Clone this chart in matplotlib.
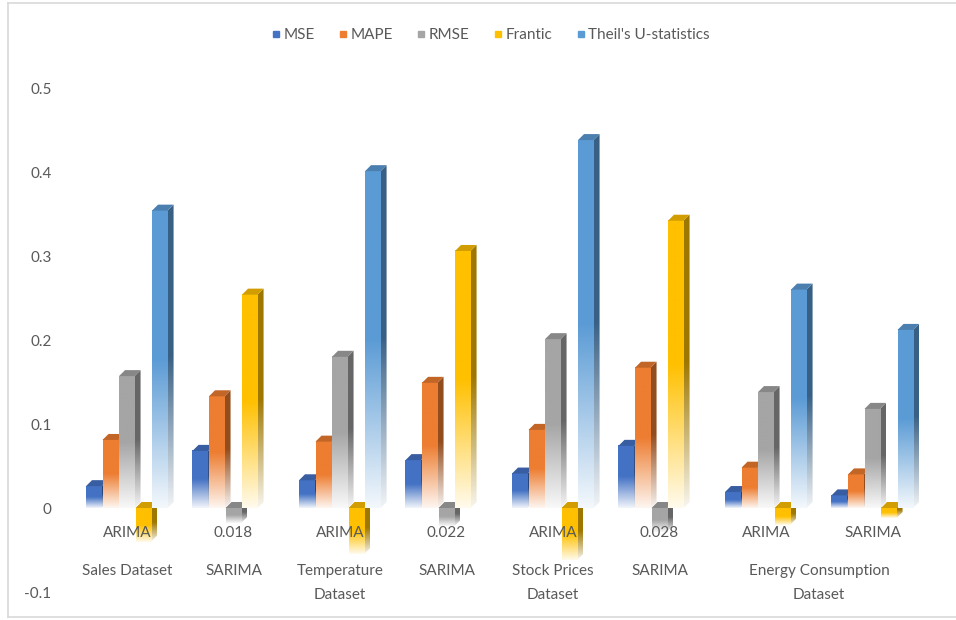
import matplotlib
matplotlib.use("Agg")
import matplotlib.pyplot as plt
import numpy as np
from matplotlib.patches import Polygon
from matplotlib.lines import Line2D
from matplotlib.colors import to_rgb

plt.rcParams['font.family'] = ['Lato', 'DejaVu Sans']

model_labels = ["ARIMA", "0.018", "ARIMA", "0.022", "ARIMA", "0.028", "ARIMA", "SARIMA"]
dataset_labels = [("Sales Dataset", 0), ("SARIMA", 1), ("Temperature\nDataset", 2),
                  ("SARIMA", 3), ("Stock Prices\nDataset", 4), ("SARIMA", 5),
                  ("Energy Consumption\nDataset", 6.5)]

series_names = ["MSE", "MAPE", "RMSE", "Frantic", "Theil's U-statistics"]
mse = [0.026, 0.068, 0.033, 0.057, 0.041, 0.074, 0.019, 0.015]
mape = [0.081, 0.133, 0.079, 0.149, 0.093, 0.167, 0.048, 0.040]
rmse = [0.157, -0.018, 0.180, -0.022, 0.201, -0.028, 0.138, 0.118]
frantic = [-0.040, 0.254, -0.055, 0.306, -0.062, 0.342, -0.020, -0.012]
theil = [0.354, np.nan, 0.401, np.nan, 0.438, np.nan, 0.260, 0.212]
series = [mse, mape, rmse, frantic, theil]
colors = ["#4472C4", "#ED7D31", "#A5A5A5", "#FFC000", "#5B9BD5"]

W, H = 956, 620
fig = plt.figure(figsize=(W / 100, H / 100), dpi=100)
ax = fig.add_axes([73.75 / W, (H - 592) / H, 852 / W, 504 / H])
ax.set_xlim(-0.5, 7.5)
ax.set_ylim(-0.1, 0.5)

pitch = 0.155
front_w = 0.146
start = -0.385
dx = 6 / 106.5
dy = 6 / 840


def gradient(color, shade=1.0, n=200):
    # solid colour on the upper half, fading towards white at the bottom
    rgb = np.array(to_rgb(color)) * shade
    t = np.linspace(0, 1, n)
    f = np.where(t < 0.5, 1.0, 1.0 - (t - 0.5) / 0.5 * 0.93)
    img = np.ones((n, 1, 3))
    for c in range(3):
        img[:, 0, c] = 1 - f * (1 - rgb[c])
    return img


for k, (vals, col) in enumerate(zip(series, colors)):
    for i, v in enumerate(vals):
        if np.isnan(v):
            continue
        x0 = i + start + k * pitch
        x1 = x0 + front_w
        y0, y1 = min(0, v), max(0, v)
        z = 2 + k * 0.1
        # right side face
        side = Polygon([(x1, y0), (x1 + dx, y0 + dy), (x1 + dx, y1 + dy), (x1, y1)],
                       closed=True, facecolor="none", edgecolor="none", zorder=z)
        ax.add_patch(side)
        im = ax.imshow(gradient(col, 0.62), extent=[x1, x1 + dx, y0, y1 + dy],
                       aspect="auto", zorder=z, interpolation="bilinear")
        im.set_clip_path(side)
        # front face
        ax.imshow(gradient(col), extent=[x0, x1, y0, y1], aspect="auto",
                  zorder=z + 0.01, interpolation="bilinear")
        # top face
        top_rgb = np.array(to_rgb(col)) * 0.82
        ax.add_patch(Polygon([(x0, y1), (x1, y1), (x1 + dx, y1 + dy), (x0 + dx, y1 + dy)],
                             closed=True, facecolor=top_rgb, edgecolor="none", zorder=z + 0.02))

ax.set_xlim(-0.5, 7.5)
ax.set_ylim(-0.1, 0.5)
for s in ax.spines.values():
    s.set_visible(False)
ax.set_xticks([])
ax.set_yticks([-0.1, 0, 0.1, 0.2, 0.3, 0.4, 0.5])
ax.set_yticklabels(["-0.1", "0", "0.1", "0.2", "0.3", "0.4", "0.5"])
ax.tick_params(axis="y", length=0, pad=16, labelsize=11, labelcolor="#595959")

txt = dict(color="#595959", fontsize=11, ha="center", va="center", clip_on=False, zorder=10)
for i, lab in enumerate(model_labels):
    ax.text(i, -0.0298, lab, **txt)
for lab, pos in dataset_labels:
    for j, line in enumerate(lab.split("\n")):
        ax.text(pos, -0.075 - j * 0.0286, line, **txt)

handles = [Line2D([], [], marker="s", linestyle="", markersize=5, color=c) for c in colors]
leg = fig.legend(handles, series_names, loc="center", ncol=5, frameon=False,
                 bbox_to_anchor=(490 / W, 1 - 35 / H), fontsize=11,
                 handletextpad=0.1, columnspacing=1.45, handlelength=0.8)
for t in leg.get_texts():
    t.set_color("#595959")

# chart frame
border = "#d9d9d9"
fig.add_artist(Line2D([8 / W, 8 / W], [1 - 3 / H, 1 - 617 / H], color=border, lw=1.2))
fig.add_artist(Line2D([8 / W, 1], [1 - 3 / H, 1 - 3 / H], color=border, lw=1.2))
fig.add_artist(Line2D([8 / W, 1], [1 - 617 / H, 1 - 617 / H], color=border, lw=1.2))

fig.savefig("out.png", dpi=100)
